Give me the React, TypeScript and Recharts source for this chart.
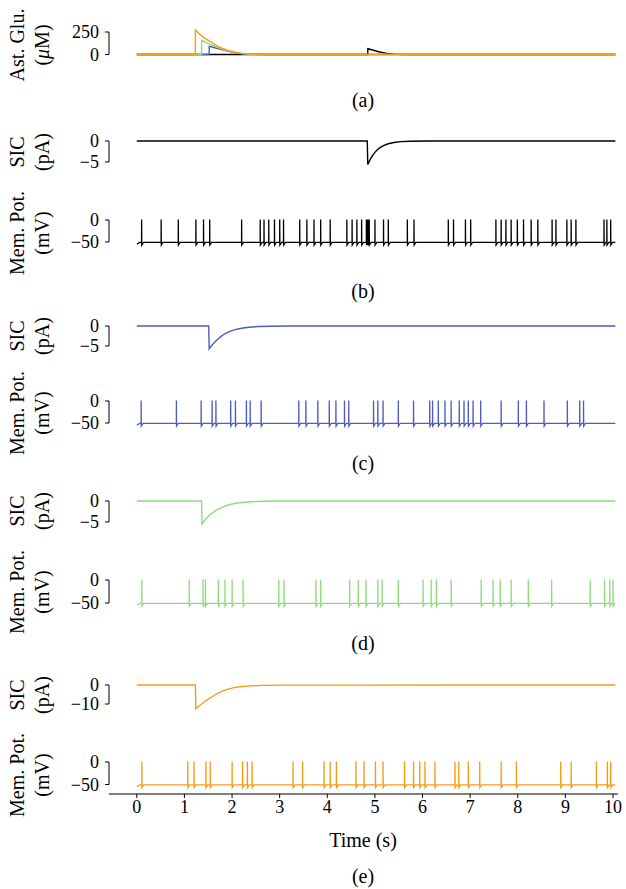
import React from 'react';
import { LineChart, Line, XAxis, YAxis, ReferenceLine, Label } from 'recharts';

// ---------------- data ----------------
const TIME_TICKS = [0, 1, 2, 3, 4, 5, 6, 7, 8, 9, 10];
const X_MIN = -0.584;
const X_MAX = 10.105;
const TRACE_END = 10.05;

// Astrocytic glutamate (uM), panel (a)
const gluBlack_t = [0, 4.85, 4.851, 4.95, 5.1, 5.25, 5.4, 5.6, TRACE_END];
const gluBlack_v = [0, 0, 65, 50, 28, 12, 4, 0, 0];
const gluBlue_t = [0, 1.52, 1.521, 1.6, 1.76, 1.9, 2.04, 2.2, 2.4, 2.7, TRACE_END];
const gluBlue_v = [0, 0, 90, 80, 58, 38, 22, 10, 3, 0, 0];
const gluGreen_t = [0, 1.36, 1.361, 1.5, 1.6, 1.76, 1.9, 2.04, 2.2, 2.4, 2.7, TRACE_END];
const gluGreen_v = [0, 0, 160, 120, 100, 65, 42, 25, 11, 3, 0, 0];
const gluOrange_t = [0, 1.23, 1.231, 1.3, 1.4, 1.5, 1.6, 1.76, 1.9, 2.04, 2.2, 2.4, 2.7, TRACE_END];
const gluOrange_v = [0, 0, 272, 235, 190, 158, 125, 75, 48, 28, 12, 4, 0, 0];

// SIC (pA)
const sicB_t = [0, 4.84, 4.85, 4.88, 4.92, 4.96, 5.0, 5.05, 5.1, 5.18, 5.28, 5.4, 5.55, 5.75, 6.1, TRACE_END];
const sicB_v = [0, 0, -5.6, -4.9, -4.0, -3.3, -2.7, -2.1, -1.65, -1.1, -0.65, -0.35, -0.15, -0.05, 0, 0];
const sicC_t = [0, 1.51, 1.52, 1.55, 1.6, 1.65, 1.7, 1.77, 1.84, 1.92, 2.0, 2.1, 2.2, 2.35, 2.55, 2.8, 3.2, TRACE_END];
const sicC_v = [0, 0, -5.7, -5.2, -4.5, -3.9, -3.3, -2.6, -2.0, -1.55, -1.15, -0.8, -0.55, -0.3, -0.13, -0.05, 0, 0];
const sicD_t = [0, 1.36, 1.37, 1.4, 1.45, 1.5, 1.56, 1.62, 1.7, 1.8, 1.92, 2.05, 2.2, 2.4, 2.65, 3.0, TRACE_END];
const sicD_v = [0, 0, -5.5, -5.0, -4.3, -3.7, -3.1, -2.6, -2.0, -1.45, -0.95, -0.6, -0.35, -0.17, -0.07, 0, 0];
const sicE_t = [0, 1.23, 1.24, 1.28, 1.34, 1.4, 1.47, 1.55, 1.65, 1.76, 1.9, 2.04, 2.2, 2.4, 2.65, 3.0, TRACE_END];
const sicE_v = [0, 0, -12.5, -11.6, -10.4, -9.2, -8.0, -6.7, -5.0, -3.6, -2.3, -1.4, -0.8, -0.45, -0.2, -0.05, 0];

// Spike times (s) of the membrane potential traces
const spikesB = [0.10, 0.51, 0.87, 1.24, 1.40, 1.53, 2.20, 2.59, 2.67, 2.77, 2.89, 3.00, 3.08, 3.42, 3.57, 3.72, 3.86, 4.06, 4.41, 4.52, 4.62, 4.72, 4.82, 4.84, 4.86, 4.88, 5.00, 5.18, 5.28, 5.68, 5.82, 6.54, 6.65, 6.90, 7.01, 7.54, 7.65, 7.75, 7.86, 7.99, 8.12, 8.28, 8.42, 8.72, 8.80, 9.03, 9.12, 9.22, 9.81, 9.87, 9.95];
const spikesC = [0.09, 0.83, 1.35, 1.58, 1.66, 1.97, 2.07, 2.30, 2.38, 2.61, 3.40, 3.55, 3.80, 4.04, 4.18, 4.36, 4.45, 4.97, 5.06, 5.17, 5.49, 5.81, 6.15, 6.21, 6.33, 6.47, 6.60, 6.77, 6.87, 6.96, 7.06, 7.22, 7.65, 8.01, 8.18, 8.55, 9.04, 9.30, 9.38];
const spikesD = [0.105, 1.10, 1.39, 1.44, 1.71, 1.85, 2.00, 2.23, 2.98, 3.09, 3.76, 3.86, 4.47, 4.65, 4.81, 5.06, 5.15, 5.49, 6.01, 6.18, 6.29, 6.60, 7.23, 7.48, 7.63, 7.86, 8.22, 8.71, 9.52, 9.82, 9.93, 10.0];
const spikesE = [0.105, 1.07, 1.20, 1.45, 1.54, 2.00, 2.22, 2.32, 2.42, 3.28, 3.48, 3.93, 4.06, 4.19, 4.60, 4.77, 5.01, 5.17, 5.62, 5.81, 5.94, 6.05, 6.26, 6.68, 6.76, 6.96, 7.20, 7.65, 7.97, 8.90, 9.12, 9.65, 9.88, 9.95];

// membrane potential levels (mV)
const MEM_START = -55;
const MEM_REST = -51;
const MEM_PEAK = 1;
const MEM_RESET = -57;

// ---------------- helpers ----------------
type Pt = { t: number; v: number };
const toPts = (ts: number[], vs: number[]): Pt[] => ts.map((t, i) => ({ t, v: vs[i] }));

function memTrace(spikes: number[]): Pt[] {
  const pts: Pt[] = [{ t: 0, v: MEM_START }, { t: 0.06, v: MEM_REST }];
  spikes.forEach((s, i) => {
    const next = i < spikes.length - 1 ? spikes[i + 1] : TRACE_END + 1;
    pts.push({ t: s, v: MEM_REST });
    pts.push({ t: s + 0.001, v: MEM_PEAK });
    pts.push({ t: s + 0.004, v: MEM_RESET });
    const rec = Math.min(s + 0.04, next - 0.002);
    if (rec > s + 0.005) pts.push({ t: rec, v: MEM_REST });
  });
  pts.push({ t: TRACE_END, v: MEM_REST });
  return pts;
}

const fmt = (v: number) => (v < 0 ? '\u2212' + Math.abs(v) : String(v));

const FONT = '"Liberation Serif", "Times New Roman", serif';
const FS = 20;
const TFS = 18;
const BLACK = '#000000';
const BLUE = '#4c5cbf';
const GREEN = '#8ddc7c';
const ORANGE = '#f59c16';

type LineSpec = { data: Pt[]; color: string; w?: number };
type PanelProps = {
  top: number;
  bottom: number;
  ticks: [number, number];
  px: [number, number];
  lines: LineSpec[];
  yLabel: [React.ReactNode, React.ReactNode];
  labelY: number;
  letter?: string;
  letterY?: number;
  xAxis?: boolean;
};

function Panel(p: PanelProps) {
  const MT = 45;
  const MB = p.xAxis ? 65 : 60;
  const XH = p.xAxis ? 30 : 0;
  const chartTop = p.top - MT;
  const height = p.bottom - p.top + MT + MB + XH;
  const [v0, v1] = p.ticks;
  const [p0, p1] = p.px;
  const s = (p0 - p1) / (v1 - v0);
  const hi = v1 + (p1 - p.top) / s;
  const lo = v0 - (p.bottom - p0) / s;
  const ly = p.labelY - chartTop;

  const labelContent = () => (
    <g fontFamily={FONT} fontSize={FS} fill="#000">
      <text x={17} y={ly} transform={`rotate(-90 17 ${ly})`} textAnchor="middle" dominantBaseline="central">
        {p.yLabel[0]}
      </text>
      <text x={42} y={ly} transform={`rotate(-90 42 ${ly})`} textAnchor="middle" dominantBaseline="central">
        {p.yLabel[1]}
      </text>
      {p.xAxis && (
        <text x={363} y={840 - chartTop} textAnchor="middle" dominantBaseline="central">
          Time (s)
        </text>
      )}
      {p.letter && (
        <text x={363} y={(p.letterY as number) - chartTop} textAnchor="middle" dominantBaseline="central">
          {p.letter}
        </text>
      )}
    </g>
  );

  return (
    <div style={{ position: 'absolute', left: 0, top: chartTop }}>
      <LineChart width={626} height={height} margin={{ top: MT, right: 8, bottom: MB, left: 0 }}>
        <XAxis
          type="number"
          dataKey="t"
          domain={[X_MIN, X_MAX]}
          allowDataOverflow
          hide={!p.xAxis}
          ticks={TIME_TICKS}
          height={XH}
          interval={0}
          stroke="#000"
          tickSize={4}
          tick={{ fontFamily: FONT, fontSize: TFS, fill: '#000' }}
        />
        <YAxis
          type="number"
          dataKey="v"
          domain={[lo, hi]}
          allowDataOverflow
          ticks={p.ticks}
          interval={0}
          width={109}
          axisLine={false}
          tickLine={{ stroke: '#000' }}
          tickSize={4}
          tickMargin={6}
          tickFormatter={fmt}
          tick={{ fontFamily: FONT, fontSize: TFS, fill: '#000' }}
        >
          <Label content={labelContent} />
        </YAxis>
        <ReferenceLine
          segment={[{ x: X_MIN, y: p.ticks[0] }, { x: X_MIN, y: p.ticks[1] }]}
          stroke="#000"
          strokeWidth={1}
          ifOverflow="visible"
        />
        {p.lines.map((l, i) => (
          <Line
            key={i}
            data={l.data}
            dataKey="v"
            type="linear"
            stroke={l.color}
            strokeWidth={l.w ?? 1.4}
            dot={false}
            activeDot={false}
            isAnimationActive={false}
          />
        ))}
      </LineChart>
    </div>
  );
}

const MU = (
  <>
    (<tspan fontStyle="italic">μ</tspan>M)
  </>
);

export default function App() {
  return (
    <div style={{ position: 'absolute', left: 0, top: 0, width: 626, height: 889, background: '#fff', overflow: 'hidden' }}>
      <Panel
        top={22}
        bottom={62}
        ticks={[0, 250]}
        px={[54.5, 32]}
        lines={[
          { data: toPts(gluBlack_t, gluBlack_v), color: BLACK },
          { data: toPts(gluBlue_t, gluBlue_v), color: BLUE },
          { data: toPts(gluGreen_t, gluGreen_v), color: GREEN },
          { data: toPts(gluOrange_t, gluOrange_v), color: ORANGE },
        ]}
        yLabel={['Ast. Glu.', MU]}
        labelY={45}
        letter="(a)"
        letterY={100}
      />
      <Panel top={132} bottom={172} ticks={[-5, 0]} px={[162, 141]} lines={[{ data: toPts(sicB_t, sicB_v), color: BLACK }]} yLabel={['SIC', '(pA)']} labelY={152} />
      <Panel top={212} bottom={252} ticks={[-50, 0]} px={[242, 220]} lines={[{ data: memTrace(spikesB), color: BLACK, w: 1.3 }]} yLabel={['Mem. Pot.', '(mV)']} labelY={233} letter="(b)" letterY={291} />
      <Panel top={316} bottom={356} ticks={[-5, 0]} px={[346, 326]} lines={[{ data: toPts(sicC_t, sicC_v), color: BLUE }]} yLabel={['SIC', '(pA)']} labelY={336} />
      <Panel top={392} bottom={432} ticks={[-50, 0]} px={[423, 401]} lines={[{ data: memTrace(spikesC), color: BLUE, w: 1.3 }]} yLabel={['Mem. Pot.', '(mV)']} labelY={413} letter="(c)" letterY={463} />
      <Panel top={491} bottom={531} ticks={[-5, 0]} px={[522, 501]} lines={[{ data: toPts(sicD_t, sicD_v), color: GREEN }]} yLabel={['SIC', '(pA)']} labelY={511} />
      <Panel top={571} bottom={611} ticks={[-50, 0]} px={[603, 580]} lines={[{ data: memTrace(spikesD), color: GREEN, w: 1.3 }]} yLabel={['Mem. Pot.', '(mV)']} labelY={592} letter="(d)" letterY={643} />
      <Panel top={675} bottom={715} ticks={[-10, 0]} px={[704, 685]} lines={[{ data: toPts(sicE_t, sicE_v), color: ORANGE }]} yLabel={['SIC', '(pA)']} labelY={695} />
      <Panel top={752} bottom={794} ticks={[-50, 0]} px={[784.5, 762]} lines={[{ data: memTrace(spikesE), color: ORANGE, w: 1.3 }]} yLabel={['Mem. Pot.', '(mV)']} labelY={775} letter="(e)" letterY={876} xAxis />
    </div>
  );
}
